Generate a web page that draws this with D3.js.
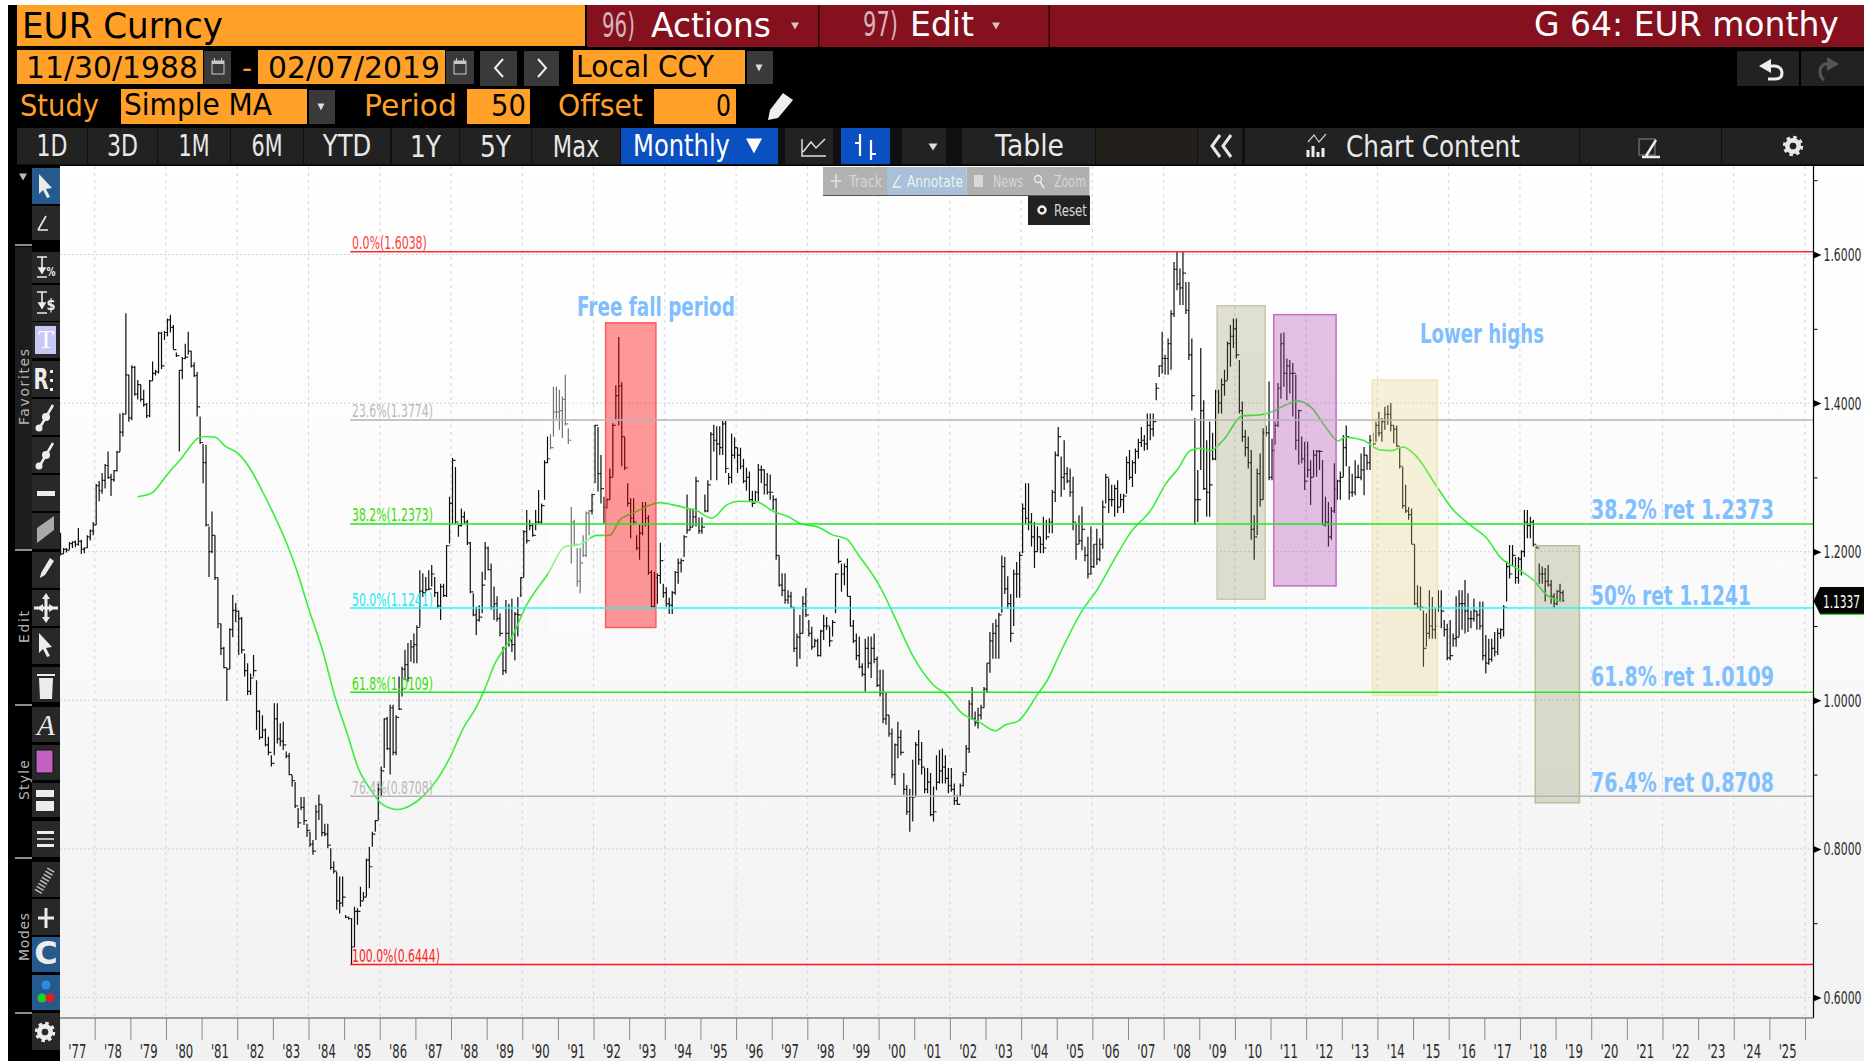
<!DOCTYPE html>
<html>
<head>
<meta charset="utf-8">
<title>EUR Curncy monthly</title>
<script src="https://cdn.jsdelivr.net/npm/d3@7"></script>
<style>
  html, body { margin: 0; padding: 0; background: #fff; overflow: hidden; }
  svg { display: block; font-family: "DejaVu Sans", sans-serif; }
</style>
</head>
<body>
<script>

// monthly bars, one row per year, 1977 to Mar 2019
var highs = [
  1.225,1.205,1.205,1.213,1.214,1.215,1.232,1.216,1.206,1.222,1.230,1.240,
  1.291,1.295,1.306,1.318,1.335,1.305,1.310,1.336,1.386,1.387,1.521,1.438,
  1.451,1.450,1.431,1.425,1.418,1.400,1.431,1.456,1.445,1.496,1.496,1.497,
  1.514,1.519,1.505,1.468,1.445,1.462,1.480,1.496,1.470,1.455,1.442,1.382,
  1.345,1.344,1.234,1.254,1.222,1.165,1.103,1.072,1.043,1.097,1.142,1.131,
  1.121,1.112,1.063,1.050,1.036,1.061,1.027,0.987,0.980,0.962,0.951,0.926,
  0.996,0.996,0.969,0.971,0.931,0.929,0.899,0.890,0.855,0.870,0.870,0.834,
  0.823,0.812,0.859,0.873,0.859,0.834,0.834,0.801,0.783,0.769,0.763,0.763,
  0.711,0.709,0.707,0.722,0.720,0.749,0.742,0.787,0.803,0.823,0.839,0.888,
  0.911,0.976,0.978,0.994,0.994,0.980,1.032,1.045,1.068,1.077,1.081,1.090,
  1.101,1.175,1.171,1.166,1.175,1.182,1.166,1.146,1.157,1.157,1.209,1.274,
  1.326,1.314,1.236,1.258,1.254,1.243,1.213,1.144,1.126,1.128,1.173,1.213,
  1.207,1.184,1.153,1.140,1.117,1.072,1.135,1.130,1.137,1.119,1.139,1.166,
  1.229,1.256,1.243,1.238,1.256,1.283,1.265,1.323,1.355,1.358,1.422,1.422,
  1.418,1.409,1.438,1.366,1.260,1.243,1.205,1.205,1.222,1.254,1.256,1.278,
  1.371,1.368,1.330,1.274,1.272,1.312,1.373,1.424,1.489,1.428,1.354,1.292,
  1.272,1.272,1.222,1.236,1.267,1.267,1.249,1.175,1.173,1.171,1.212,1.157,
  1.152,1.138,1.147,1.174,1.191,1.191,1.222,1.277,1.258,1.258,1.301,1.246,
  1.246,1.277,1.296,1.361,1.371,1.369,1.369,1.376,1.376,1.306,1.359,1.354,
  1.340,1.340,1.325,1.313,1.308,1.282,1.282,1.318,1.316,1.311,1.306,1.304,
  1.276,1.272,1.195,1.171,1.171,1.148,1.146,1.126,1.090,1.115,1.140,1.151,
  1.108,1.099,1.083,1.083,1.095,1.115,1.112,1.099,1.108,1.171,1.217,1.184,
  1.184,1.191,1.140,1.108,1.090,1.086,1.050,1.083,1.086,1.086,1.090,1.059,
  1.041,1.041,1.010,0.980,0.962,0.942,0.971,0.960,0.902,0.886,0.881,0.920,
  0.944,0.960,0.944,0.909,0.909,0.902,0.884,0.926,0.933,0.935,0.926,0.909,
  0.909,0.888,0.873,0.888,0.904,0.940,1.000,1.018,0.985,0.990,0.994,1.018,
  1.050,1.092,1.104,1.109,1.118,1.195,1.193,1.167,1.143,1.176,1.186,1.200,
  1.265,1.292,1.292,1.252,1.240,1.234,1.220,1.247,1.243,1.245,1.283,1.335,
  1.368,1.328,1.350,1.314,1.312,1.301,1.238,1.249,1.261,1.207,1.220,1.234,
  1.210,1.231,1.218,1.269,1.305,1.299,1.290,1.290,1.296,1.278,1.278,1.328,
  1.337,1.323,1.339,1.352,1.368,1.357,1.386,1.386,1.386,1.427,1.451,1.496,
  1.465,1.487,1.525,1.590,1.6038,1.581,1.6038,1.563,1.563,1.487,1.380,1.310,
  1.474,1.404,1.350,1.375,1.360,1.418,1.418,1.433,1.445,1.483,1.505,1.514,
  1.514,1.458,1.402,1.364,1.355,1.337,1.249,1.312,1.332,1.366,1.370,1.429,
  1.352,1.375,1.427,1.494,1.495,1.460,1.458,1.454,1.438,1.391,1.355,1.348,
  1.348,1.323,1.337,1.337,1.337,1.323,1.274,1.267,1.260,1.319,1.297,1.308,
  1.357,1.370,1.315,1.305,1.323,1.317,1.332,1.341,1.330,1.357,1.360,1.375,
  1.388,1.380,1.395,1.397,1.400,1.370,1.370,1.341,1.314,1.290,1.260,1.258,
  1.210,1.155,1.153,1.121,1.117,1.148,1.139,1.124,1.148,1.148,1.108,1.103,
  1.108,1.090,1.140,1.148,1.148,1.162,1.144,1.121,1.137,1.121,1.133,1.133,
  1.088,1.083,1.083,1.092,1.097,1.097,1.128,1.187,1.209,1.209,1.193,1.193,
  1.202,1.256,1.256,1.247,1.243,1.209,1.184,1.180,1.178,1.182,1.162,1.144,
  1.148,1.157,1.148
];
var lows = [
  1.195,1.197,1.199,1.203,1.205,1.206,1.208,1.197,1.198,1.205,1.215,1.222,
  1.236,1.268,1.278,1.285,1.298,1.275,1.294,1.308,1.335,1.355,1.385,1.375,
  1.377,1.410,1.405,1.402,1.395,1.380,1.381,1.430,1.437,1.440,1.446,1.485,
  1.490,1.495,1.472,1.462,1.335,1.432,1.459,1.465,1.448,1.435,1.382,1.345,
  1.292,1.234,1.166,1.198,1.162,1.097,1.061,1.043,0.999,1.042,1.085,1.105,
  1.061,1.063,1.032,1.007,1.007,1.032,0.960,0.947,0.949,0.938,0.926,0.911,
  0.926,0.942,0.938,0.933,0.922,0.899,0.884,0.855,0.828,0.852,0.832,0.816,
  0.803,0.792,0.812,0.839,0.817,0.817,0.801,0.772,0.767,0.718,0.713,0.722,
  0.707,0.705,0.6444,0.668,0.698,0.722,0.731,0.736,0.747,0.803,0.823,0.839,
  0.870,0.909,0.933,0.900,0.926,0.926,0.987,1.005,1.027,1.025,1.052,1.050,
  1.050,1.099,1.139,1.146,1.148,1.153,1.139,1.124,1.108,1.139,1.139,1.211,
  1.238,1.238,1.220,1.234,1.238,1.209,1.144,1.113,1.088,1.106,1.117,1.162,
  1.175,1.122,1.108,1.106,1.086,1.034,1.036,1.072,1.065,1.054,1.086,1.139,
  1.166,1.211,1.229,1.220,1.229,1.238,1.238,1.270,1.319,1.338,1.355,1.379,
  1.364,1.353,1.370,1.345,1.184,1.207,1.153,1.144,1.193,1.193,1.222,1.250,
  1.292,1.281,1.265,1.238,1.258,1.270,1.301,1.377,1.370,1.315,1.310,1.261,
  1.218,1.236,1.202,1.189,1.222,1.234,1.169,1.124,1.124,1.130,1.157,1.138,
  1.126,1.116,1.116,1.142,1.157,1.172,1.193,1.224,1.229,1.234,1.234,1.224,
  1.224,1.253,1.253,1.296,1.335,1.296,1.330,1.330,1.306,1.290,1.292,1.325,
  1.306,1.311,1.292,1.282,1.268,1.260,1.268,1.268,1.292,1.277,1.277,1.270,
  1.256,1.189,1.153,1.140,1.130,1.130,1.124,1.065,1.045,1.056,1.090,1.112,
  1.086,1.068,1.072,1.059,1.059,1.081,1.095,1.072,1.086,1.117,1.184,1.146,
  1.155,1.140,1.099,1.077,1.054,1.043,1.032,1.012,1.043,1.030,1.050,1.018,
  1.005,0.969,0.967,0.951,0.895,0.886,0.922,0.926,0.873,0.846,0.823,0.837,
  0.870,0.913,0.900,0.875,0.875,0.844,0.837,0.879,0.888,0.888,0.888,0.875,
  0.877,0.859,0.859,0.870,0.884,0.902,0.929,0.974,0.965,0.962,0.974,0.990,
  1.010,1.037,1.056,1.056,1.056,1.118,1.143,1.123,1.078,1.100,1.138,1.138,
  1.198,1.238,1.229,1.207,1.178,1.200,1.198,1.198,1.216,1.225,1.225,1.267,
  1.328,1.274,1.283,1.292,1.274,1.229,1.189,1.210,1.202,1.187,1.164,1.169,
  1.178,1.182,1.187,1.204,1.265,1.252,1.261,1.247,1.252,1.261,1.252,1.278,
  1.297,1.287,1.305,1.325,1.341,1.336,1.337,1.350,1.355,1.404,1.435,1.440,
  1.438,1.438,1.445,1.516,1.552,1.532,1.532,1.520,1.458,1.390,1.236,1.240,
  1.310,1.283,1.247,1.247,1.323,1.323,1.386,1.386,1.410,1.431,1.449,1.474,
  1.460,1.386,1.348,1.328,1.312,1.216,1.189,1.222,1.261,1.270,1.355,1.296,
  1.296,1.344,1.368,1.406,1.422,1.404,1.413,1.382,1.337,1.317,1.319,1.283,
  1.300,1.263,1.301,1.301,1.310,1.236,1.234,1.207,1.216,1.252,1.270,1.270,
  1.301,1.315,1.270,1.274,1.276,1.299,1.296,1.276,1.310,1.310,1.341,1.348,
  1.355,1.348,1.364,1.371,1.362,1.346,1.341,1.312,1.258,1.252,1.243,1.210,
  1.128,1.124,1.121,1.045,1.072,1.083,1.083,1.083,1.119,1.097,1.086,1.054,
  1.054,1.072,1.072,1.086,1.095,1.090,1.092,1.097,1.106,1.095,1.095,1.054,
  1.036,1.048,1.052,1.059,1.061,1.083,1.086,1.133,1.164,1.180,1.157,1.157,
  1.168,1.193,1.218,1.218,1.207,1.205,1.157,1.157,1.133,1.153,1.130,1.124,
  1.128,1.133,1.133
];
var closes = [
  1.197,1.203,1.202,1.211,1.213,1.210,1.214,1.203,1.205,1.220,1.228,1.236,
  1.289,1.282,1.296,1.316,1.300,1.297,1.309,1.334,1.361,1.385,1.438,1.380,
  1.448,1.412,1.425,1.405,1.398,1.383,1.430,1.440,1.442,1.494,1.450,1.495,
  1.512,1.502,1.472,1.464,1.444,1.460,1.462,1.470,1.450,1.437,1.395,1.347,
  1.320,1.236,1.200,1.222,1.165,1.103,1.070,1.044,1.042,1.095,1.121,1.120,
  1.110,1.068,1.040,1.012,1.030,1.040,0.985,0.950,0.960,0.940,0.930,0.915,
  0.975,0.948,0.945,0.940,0.925,0.900,0.892,0.858,0.835,0.856,0.838,0.825,
  0.806,0.797,0.850,0.860,0.822,0.820,0.805,0.775,0.770,0.730,0.727,0.735,
  0.708,0.706,0.668,0.716,0.716,0.730,0.735,0.785,0.776,0.820,0.838,0.880,
  0.905,0.975,0.935,0.990,0.930,0.977,0.988,1.042,1.048,1.030,1.072,1.075,
  1.098,1.147,1.145,1.149,1.150,1.170,1.145,1.127,1.153,1.141,1.208,1.265,
  1.323,1.240,1.235,1.247,1.240,1.212,1.146,1.115,1.108,1.112,1.155,1.205,
  1.176,1.125,1.130,1.110,1.090,1.040,1.090,1.080,1.075,1.116,1.115,1.165,
  1.227,1.215,1.235,1.222,1.240,1.240,1.262,1.320,1.325,1.340,1.388,1.388,
  1.390,1.405,1.372,1.350,1.240,1.210,1.160,1.185,1.195,1.252,1.255,1.277,
  1.370,1.305,1.285,1.260,1.270,1.300,1.370,1.410,1.423,1.355,1.313,1.265,
  1.245,1.240,1.205,1.225,1.260,1.245,1.172,1.126,1.165,1.168,1.188,1.145,
  1.130,1.128,1.145,1.172,1.185,1.188,1.220,1.229,1.233,1.247,1.295,1.228,
  1.233,1.255,1.290,1.358,1.350,1.345,1.340,1.372,1.312,1.300,1.330,1.340,
  1.330,1.315,1.295,1.300,1.270,1.265,1.280,1.310,1.310,1.290,1.280,1.280,
  1.270,1.195,1.155,1.148,1.135,1.140,1.125,1.070,1.085,1.090,1.130,1.115,
  1.090,1.072,1.080,1.060,1.093,1.100,1.100,1.080,1.105,1.170,1.187,1.170,
  1.180,1.140,1.100,1.080,1.060,1.045,1.035,1.070,1.050,1.070,1.055,1.020,
  1.010,0.975,0.980,0.955,0.900,0.940,0.950,0.930,0.880,0.850,0.870,0.870,
  0.940,0.920,0.910,0.880,0.890,0.846,0.850,0.890,0.905,0.910,0.895,0.885,
  0.880,0.865,0.860,0.885,0.900,0.935,0.995,0.975,0.970,0.980,0.990,1.015,
  1.050,1.080,1.090,1.100,1.115,1.180,1.150,1.130,1.090,1.170,1.170,1.195,
  1.258,1.245,1.240,1.220,1.200,1.220,1.210,1.205,1.220,1.240,1.280,1.330,
  1.355,1.300,1.305,1.295,1.280,1.240,1.210,1.215,1.230,1.195,1.170,1.180,
  1.210,1.190,1.210,1.260,1.300,1.270,1.270,1.285,1.260,1.270,1.275,1.320,
  1.300,1.320,1.335,1.347,1.350,1.345,1.370,1.365,1.375,1.420,1.450,1.460,
  1.460,1.480,1.520,1.580,1.560,1.555,1.575,1.525,1.465,1.410,1.270,1.270,
  1.390,1.285,1.280,1.290,1.325,1.415,1.400,1.425,1.430,1.480,1.490,1.500,
  1.465,1.390,1.355,1.340,1.320,1.230,1.220,1.305,1.270,1.360,1.360,1.300,
  1.336,1.370,1.420,1.480,1.440,1.450,1.440,1.440,1.350,1.390,1.325,1.295,
  1.310,1.300,1.330,1.335,1.335,1.236,1.240,1.220,1.255,1.285,1.295,1.300,
  1.340,1.355,1.280,1.280,1.300,1.300,1.310,1.330,1.320,1.350,1.345,1.370,
  1.360,1.375,1.385,1.385,1.370,1.365,1.342,1.315,1.262,1.255,1.250,1.210,
  1.130,1.125,1.125,1.070,1.090,1.100,1.095,1.100,1.125,1.120,1.095,1.057,
  1.060,1.083,1.085,1.130,1.130,1.120,1.110,1.110,1.120,1.115,1.100,1.060,
  1.050,1.055,1.070,1.065,1.090,1.095,1.125,1.180,1.170,1.195,1.165,1.190,
  1.200,1.240,1.235,1.240,1.210,1.205,1.170,1.170,1.160,1.155,1.140,1.130,
  1.147,1.145,1.134
];

// 50 month moving average
var maYears = [1979.2,1979.6,1979.93,1980.16,1980.39,1980.67,1980.91,1981.14,1981.38,1981.66,1982.03,1982.36,1982.73,1983.01,1983.39,1983.67,1984.0,1984.42,1984.74,1985.08,1985.42,1985.71,1986.05,1986.51,1986.85,1987.26,1987.66,1988.0,1988.35,1988.69,1988.92,1989.26,1989.47,1989.66,1990.12,1990.73,1991.2,1991.62,1992.09,1992.46,1992.74,1993.12,1993.49,1993.87,1994.24,1994.66,1994.9,1995.32,1995.74,1996.08,1996.58,1997.05,1997.47,1997.75,1998.36,1998.69,1999.11,1999.43,2000.04,2000.51,2000.97,2001.53,2001.91,2002.33,2002.85,2003.27,2003.56,2003.91,2004.49,2004.71,2005.12,2005.68,2006.15,2006.62,2007.06,2007.67,2008.04,2008.41,2008.74,2009.02,2009.3,2009.67,2010.22,2010.68,2011.07,2011.41,2011.76,2012.15,2012.57,2012.9,2013.09,2013.6,2014.07,2014.4,2014.72,2015.1,2015.66,2016.13,2016.6,2017.07,2017.44,2018.0,2018.37,2018.75,2019.17];
var maValues = [1.274,1.279,1.297,1.311,1.323,1.341,1.353,1.355,1.354,1.342,1.332,1.312,1.279,1.252,1.211,1.175,1.124,1.063,1.005,0.956,0.906,0.882,0.861,0.853,0.858,0.873,0.897,0.926,0.963,0.989,1.012,1.052,1.068,1.081,1.128,1.171,1.207,1.210,1.222,1.222,1.243,1.252,1.261,1.266,1.263,1.258,1.255,1.245,1.263,1.268,1.267,1.254,1.247,1.239,1.232,1.223,1.217,1.196,1.153,1.106,1.059,1.021,1.007,0.983,0.970,0.959,0.967,0.972,1.010,1.025,1.066,1.118,1.150,1.190,1.225,1.258,1.290,1.312,1.336,1.339,1.336,1.350,1.383,1.384,1.389,1.397,1.403,1.394,1.366,1.349,1.354,1.350,1.337,1.336,1.341,1.328,1.288,1.256,1.236,1.218,1.193,1.175,1.162,1.142,1.133];

// fibonacci levels and their labels
var fibValues = [1.6038,1.3774,1.2373,1.1241,1.0109,0.8708,0.6444];
var fibLabels = ["0.0%(1.6038)","23.6%(1.3774)","38.2%(1.2373)","50.0%(1.1241)","61.8%(1.0109)","76.4%(0.8708)","100.0%(0.6444)"];
var fibColors = ["#ff2a2a","#b5b5b5","#1ee81e","#2cf4f8","#1ee81e","#b5b5b5","#ff1a1a"];
var fibLabelColors = ["#ff3b3b","#b9b9b9","#33e000","#22e6f2","#33e000","#b9b9b9","#ff2020"];

// coloured boxes drawn on the chart
var boxStart = [1992.34,2009.5,2011.09,2013.86,2018.43];
var boxEnd = [1993.75,2010.85,2012.84,2015.68,2019.67];
var boxTop = [1.508,1.531,1.519,1.431,1.208];
var boxBottom = [1.098,1.136,1.154,1.007,0.862];
var boxFill = ["rgba(255,0,0,0.4)","rgba(125,125,70,0.24)","rgba(180,70,180,0.34)","rgba(225,212,120,0.27)","rgba(125,125,70,0.25)"];
var boxLine = ["#ff5a5a","#c9c9a8","#c46fc4","#eee6b0","#bcbc9c"];

var yTicks = [0.6,0.8,1.0,1.2,1.4,1.6];
var yMinorTicks = [0.7,0.9,1.1,1.3,1.5,1.7];
var yearTicks = d3.range(1977,2027);
var gridYears = d3.range(1978,2028,2);
var lastPrice = 1.1337;

var width = 1864, height = 1061;
var plot = {left: 60, right: 1813.5, top: 166, bottom: 1018};

var x = d3.scaleLinear().domain([1978,2026]).range([94.7,1805]);
var y = d3.scaleLinear().domain([0.6,1.6]).range([997.5,254.5]);

var svg = d3.select("body").append("svg")
  .attr("width", width)
  .attr("height", height);

var defs = svg.append("defs");
var gradient = defs.append("linearGradient")
  .attr("id","plotBg")
  .attr("gradientUnits","userSpaceOnUse")
  .attr("x1",0).attr("y1",plot.top).attr("x2",0).attr("y2",height);
gradient.append("stop").attr("offset","0%").attr("stop-color","#ffffff");
gradient.append("stop").attr("offset","35%").attr("stop-color","#fcfcfc");
gradient.append("stop").attr("offset","100%").attr("stop-color","#f1f1f1");

// squeeze a text to a given width, the terminal font is very narrow
function squeeze(t, px, py, w) {
  var scale = w / t.node().getComputedTextLength();
  t.attr("x",0).attr("y",0).attr("dy",null)
    .attr("dominant-baseline","central")
    .attr("transform","translate(" + px + "," + py + ") scale(" + scale + ",1)");
}

function label(g, px, py, s, size, w, color, weight, anchor) {
  var t = g.append("text")
    .attr("x", px).attr("y", py)
    .attr("dominant-baseline","central")
    .attr("font-size", size)
    .attr("fill", color)
    .text(s);
  if (weight) t.attr("font-weight", weight);
  if (anchor) t.attr("text-anchor", anchor);
  if (w) squeeze(t, px, py, w);
  return t;
}

function box(g, x0, x1, y0, y1, fill, stroke) {
  var r = g.append("rect")
    .attr("x", x0).attr("y", y0)
    .attr("width", x1 - x0).attr("height", y1 - y0)
    .attr("fill", fill);
  if (stroke) r.attr("stroke", stroke).attr("stroke-width", 1);
  return r;
}

function tri(g, cx, cy, w, h, color) {
  var d = "M" + (cx - w/2) + "," + (cy - h/2) + "L" + (cx + w/2) + "," + (cy - h/2) + "L" + cx + "," + (cy + h/2) + "Z";
  g.append("path").attr("d", d).attr("fill", color);
}

// solid gear: ring, teeth from a dashed stroke, dark hole
function gear(g, cx, cy, r, color, hole) {
  var dash = 2 * Math.PI * r / 16;
  g.append("circle").attr("cx",cx).attr("cy",cy).attr("r",r).attr("fill",color);
  g.append("circle").attr("cx",cx).attr("cy",cy).attr("r",r).attr("fill","none")
    .attr("stroke",color).attr("stroke-width",r * 0.55).attr("stroke-dasharray",dash + " " + dash);
  g.append("circle").attr("cx",cx).attr("cy",cy).attr("r",r * 0.42).attr("fill",hole);
}

function calendar(g, cx, cy) {
  box(g, cx - 6, cx + 6, cy - 5, cy + 8, "none", "#c8c8c8");
  box(g, cx - 6, cx + 6, cy - 5, cy - 2, "#c8c8c8");
  box(g, cx - 4, cx - 3, cy - 8, cy - 5, "#c8c8c8");
  box(g, cx + 3, cx + 4, cy - 8, cy - 5, "#c8c8c8");
}

function drawFrame() {
  box(svg, 8, width, 5, plot.top, "#000");
  box(svg, 8, plot.left, plot.top - 1, height, "#000");
  box(svg, plot.left, width, plot.top, height, "url(#plotBg)");
}

function drawHeader() {
  var g = svg.append("g").attr("class","header");
  var orange = "#ffa028", wine = "#85101e", btn = "#3a3a3a";

  // row 1
  box(g, 17, 585, 5, 46, orange);
  box(g, 587, width, 5, 47, wine);
  box(g, 818, 819.5, 5, 47, "#2a0508");
  box(g, 1048.5, 1050, 5, 47, "#2a0508");
  label(g, 22, 26, "EUR Curncy", 35, 201, "#000");
  label(g, 602, 25, "96)", 33, 33, "#d8b0b8");
  label(g, 651, 25, "Actions", 33, 120, "#fff");
  tri(g, 795, 26, 8, 7, "#d8c0c4");
  label(g, 863, 25, "97)", 33, 35, "#d8b0b8");
  label(g, 910, 25, "Edit", 33, 64, "#fff");
  tri(g, 996, 26, 8, 7, "#d8c0c4");
  label(g, 1534, 25, "G 64: EUR monthy", 33, 305, "#fff");

  // row 2
  box(g, 17, 203, 50, 84, orange);
  label(g, 26, 67, "11/30/1988", 31, 172, "#000");
  box(g, 204, 231, 51, 84, btn);
  calendar(g, 218, 66);
  label(g, 242, 68, "-", 28, 10, "#ffa028");
  box(g, 258, 445, 50, 84, orange);
  label(g, 268, 67, "02/07/2019", 31, 172, "#000");
  box(g, 446, 474, 51, 84, btn);
  calendar(g, 460, 66);
  box(g, 480, 517, 51, 86, btn);
  g.append("path").attr("d","M503,59L495,68L503,77").attr("fill","none").attr("stroke","#eee").attr("stroke-width",2);
  box(g, 524, 559, 51, 86, btn);
  g.append("path").attr("d","M538,59L546,68L538,77").attr("fill","none").attr("stroke","#eee").attr("stroke-width",2);
  box(g, 573, 745, 50, 84, orange);
  label(g, 576, 67, "Local CCY", 31, 138, "#000");
  box(g, 747, 773, 51, 84, btn);
  tri(g, 759, 68, 7, 7, "#ddd");
  box(g, 1737, 1799, 51, 86, "#222");
  box(g, 1801, 1864, 51, 86, "#222");
  g.append("path").attr("d","M1771,59L1759,66L1771,73Z").attr("fill","#eee");
  g.append("path").attr("d","M1769,66L1775,66Q1782,67 1782,73Q1782,79 1775,79L1768,79")
    .attr("fill","none").attr("stroke","#eee").attr("stroke-width",3);
  g.append("path").attr("d","M1827,57L1839,64L1827,71Z").attr("fill","#555");
  g.append("path").attr("d","M1829,64L1825,64Q1820,66 1820,72Q1820,77 1824,80")
    .attr("fill","none").attr("stroke","#555").attr("stroke-width",3);

  // row 3
  label(g, 20, 105, "Study", 31, 79, orange);
  box(g, 121, 307, 89, 124, orange);
  label(g, 124, 105, "Simple MA", 31, 148, "#000");
  box(g, 309, 335, 90, 124, btn);
  tri(g, 321, 107, 7, 7, "#ddd");
  label(g, 364, 105, "Period", 31, 93, orange);
  box(g, 467, 530, 89, 124, orange);
  label(g, 491, 105, "50", 31, 35, "#000");
  label(g, 558, 105, "Offset", 31, 85, orange);
  box(g, 654, 736, 89, 124, orange);
  label(g, 716, 105, "0", 31, 15, "#000");
  g.append("path").attr("d","M783,93L793,100L778,118L768,120L770,110Z").attr("fill","#eee");

  // row 4, the period buttons
  var periods = ["1D","3D","1M","6M","YTD","1Y","5Y","Max"];
  var pLeft = [17,88,158,231,304,392,460,532];
  var pRight = [87,157,230,303,390,459,531,620];
  box(g, 17, 1864, 128, 165, "#101010");
  periods.forEach(function(p, i) {
    box(g, pLeft[i], pRight[i], 128, 164, "#222");
    label(g, (pLeft[i] + pRight[i]) / 2, 146, p, 30, p.length * 15.5 + (p === "YTD" ? 2 : 0), "#e8e8e8", null, "middle");
  });
  box(g, 621, 778, 128, 164, "#0a50c0");
  label(g, 633, 146, "Monthly", 30, 97, "#fff");
  tri(g, 754, 146, 16, 15, "#fff");
  box(g, 785, 833, 128, 164, "#222");
  g.append("path").attr("d","M802,139L802,156L826,156 M803,152L811,142L816,148L825,139").attr("fill","none").attr("stroke","#ddd").attr("stroke-width",1.5);
  box(g, 841, 890, 128, 164, "#0a50c0");
  g.append("path").attr("d","M860,134L860,156M855,143L860,143M871,140L871,160M871,154L876,154").attr("fill","none").attr("stroke","#fff").attr("stroke-width",2.2);
  box(g, 902, 946, 128, 164, "#222");
  tri(g, 933, 147, 9, 7, "#ddd");
  box(g, 962, 1095, 128, 164, "#222");
  label(g, 995, 146, "Table", 30, 69, "#e8e8e8");
  box(g, 1096, 1197, 128, 164, "#231f1a");
  box(g, 1198, 1242, 128, 164, "#222");
  g.append("path").attr("d","M1220,135L1212,146L1220,157M1231,135L1223,146L1231,157")
    .attr("fill","none").attr("stroke","#e8e8e8").attr("stroke-width",3);
  box(g, 1245, 1579, 128, 164, "#222");
  g.append("path").attr("d","M1308,142L1314,135L1319,142L1326,134").attr("fill","none").attr("stroke","#ccc").attr("stroke-width",1.2);
  g.append("path").attr("d","M1308,157L1308,150M1313,157L1313,146M1318,157L1318,152M1323,157L1323,148").attr("fill","none").attr("stroke","#eee").attr("stroke-width",3);
  label(g, 1346, 146, "Chart Content", 30, 174, "#e8e8e8");
  box(g, 1580, 1721, 128, 164, "#222");
  box(g, 1639, 1655, 139, 155, "none", "#888");
  g.append("path").attr("d","M1642,157L1660,157M1646,156L1656,140").attr("fill","none").attr("stroke","#eee").attr("stroke-width",2.5);
  box(g, 1722, 1864, 128, 164, "#222");
  gear(g, 1793, 146, 8, "#e8e8e8", "#222");
}

function drawSideBar() {
  var g = svg.append("g").attr("class","sidebar");
  var panel = "#282828";
  box(g, 15, 32, 247, 549, "#1d1d1d");

  var tops = [168,206,252,285,322,361,399,437,475,513,552,590,628,667,707,745,783,821,862,899,937,975,1013];
  var bottoms = [204,240,283,321,358,397,435,473,511,549,588,626,664,702,742,780,817,857,897,935,972,1010,1050];
  tops.forEach(function(t, i) {
    var f = panel;
    if (i === 0 || i === 20 || i === 21) f = "#265a8c";
    box(g, 32, 60, t, bottoms[i], f);
  });
  box(g, 35, 56, 326, 354, "#c8c8f4");

  tri(g, 23, 177, 8, 7, "#bbb");
  [245,550,705,858,1013].forEach(function(sy) { box(g, 15, 32, sy - 1, sy + 1, "#8c8c8c"); });

  // icons
  var w = "#ececec";
  g.append("path").attr("d","M39,174L39,194L43,190L47,198L50,197L46,189L52,188Z").attr("fill",w);
  g.append("path").attr("d","M38,230L46,216M38,230L48,230").attr("stroke",w).attr("stroke-width",1.6).attr("fill","none");
  g.append("path").attr("d","M37,257L47,257M42,257L42,272M37,277L47,277M39,268L45,268L42,273Z").attr("stroke",w).attr("stroke-width",1.6).attr("fill",w);
  label(g, 51, 271, "%", 12, 9, w, "bold", "middle");
  g.append("path").attr("d","M37,292L47,292M42,292L42,307M37,313L47,313M39,303L45,303L42,308Z").attr("stroke",w).attr("stroke-width",1.6).attr("fill",w);
  label(g, 51, 305, "$", 15, 9, w, "bold", "middle");
  label(g, 46, 340, "T", 26, 16, "#fff", null, "middle").attr("font-family","Liberation Serif");
  label(g, 41, 380, "R", 28, 15, w, "bold", "middle");
  [370,379,388].forEach(function(dy) { box(g, 50, 53, dy, dy + 3, w); });
  [417,455].forEach(function(cy) {
    g.append("path").attr("d","M39," + (cy + 12) + "L53," + (cy - 12)).attr("stroke",w).attr("stroke-width",2.5);
    g.append("circle").attr("cx",39).attr("cy",cy + 11).attr("r",3.5).attr("fill",w);
    g.append("circle").attr("cx",46).attr("cy",cy).attr("r",4).attr("fill",w);
  });
  box(g, 37, 55, 491, 496, w);
  g.append("path").attr("d","M37,543L54,530L54,516L37,528Z").attr("fill","#aaa");
  g.append("path").attr("d","M41,573L50,558L54,561L45,575L40,578Z").attr("fill",w);
  g.append("path").attr("d","M46,596L46,620M34,608L58,608").attr("stroke",w).attr("stroke-width",3);
  g.append("path").attr("d","M46,593L42,599L50,599ZM46,623L42,617L50,617ZM37,608L43,604L43,612ZM55,608L49,604L49,612Z").attr("fill",w);
  g.append("path").attr("d","M39,633L39,653L43,649L47,657L50,656L46,648L52,647Z").attr("fill",w);
  g.append("path").attr("d","M39,678L53,678L52,699L40,699Z M37,674L55,674L55,676L37,676Z").attr("fill",w);
  label(g, 46, 725, "A", 30, 20, w, null, "middle").attr("font-family","Liberation Serif").attr("font-style","italic");
  box(g, 36, 53, 750, 773, "#c060c0", "#111");
  box(g, 36, 54, 790, 797, w);
  box(g, 36, 54, 801, 811, w);
  box(g, 37, 54, 831, 834, w);
  box(g, 37, 54, 838, 840, "#bbb");
  box(g, 37, 54, 844, 847, w);
  g.append("path").attr("d","M38,892L52,868").attr("stroke","#bbb").attr("stroke-width",8).attr("stroke-dasharray","1.5 2").attr("fill","none");
  g.append("path").attr("d","M46,908L46,928M38,918L54,918").attr("stroke",w).attr("stroke-width",3);
  label(g, 46, 953, "C", 32, 0, w, "bold", "middle");
  g.append("circle").attr("cx",46).attr("cy",985).attr("r",4.5).attr("fill","#2b8ce8");
  g.append("circle").attr("cx",42).attr("cy",998).attr("r",4.5).attr("fill","#22cc33");
  g.append("circle").attr("cx",50).attr("cy",998).attr("r",4.5).attr("fill","#e02020");
  gear(g, 45, 1032, 8, w, "#282828");

  // section names, rotated
  [["Favorites",24,387,76],["Edit",24,627,32],["Style",24,780,40],["Modes",24,937,48]].forEach(function(s) {
    g.append("text")
      .attr("transform","translate(" + s[1] + "," + s[2] + ") rotate(-90)")
      .attr("text-anchor","middle")
      .attr("dominant-baseline","central")
      .attr("font-size",14)
      .attr("fill","#b4b4b4")
      .attr("textLength",s[3])
      .text(s[0]);
  });
}

function drawGrid() {
  var g = svg.append("g").attr("class","grid");
  g.selectAll(".v").data(gridYears).enter().append("line")
    .attr("x1", function(d){ return x(d); })
    .attr("x2", function(d){ return x(d); })
    .attr("y1", plot.top).attr("y2", plot.bottom)
    .attr("stroke","#cfd3e0").attr("stroke-width",1).attr("stroke-dasharray","3 4");
  g.selectAll(".h").data(yTicks).enter().append("line")
    .attr("x1", plot.left).attr("x2", plot.right)
    .attr("y1", function(d){ return y(d); })
    .attr("y2", function(d){ return y(d); })
    .attr("stroke","#cfd3dd").attr("stroke-width",1).attr("stroke-dasharray","2 2");
}

function drawBars() {
  var g = svg.append("g").attr("class","bars");
  g.selectAll("path").data(highs).enter().append("path")
    .attr("d", function(h, i) {
      var px = x(1977 + (i + 0.5) / 12);
      var open = i === 0 ? highs[0] : closes[i - 1];
      return "M" + px + "," + y(h) + "L" + px + "," + y(lows[i]) +
             "M" + (px - 1.4) + "," + y(open) + "L" + px + "," + y(open) +
             "M" + px + "," + y(closes[i]) + "L" + (px + 1.4) + "," + y(closes[i]);
    })
    .attr("fill","none")
    .attr("stroke","#0e0e0e")
    .attr("stroke-width",1.2);

  var maLine = d3.line()
    .x(function(d){ return x(d); })
    .y(function(d, i){ return y(maValues[i]); })
    .curve(d3.curveMonotoneX);
  svg.append("path")
    .attr("d", maLine(maYears))
    .attr("fill","none")
    .attr("stroke","#3cee3c")
    .attr("stroke-width",1.6);

  // faint leftover panel over the bars of 1990-91
  box(svg, x(1990.73), x(1991.9), y(1.47), y(1.093), "rgba(255,255,255,0.42)");
}

function drawBoxes() {
  var g = svg.append("g").attr("class","boxes");
  g.selectAll("rect").data(boxStart).enter().append("rect")
    .attr("x", function(d){ return x(d); })
    .attr("width", function(d, i){ return x(boxEnd[i]) - x(d); })
    .attr("y", function(d, i){ return y(boxTop[i]); })
    .attr("height", function(d, i){ return y(boxBottom[i]) - y(boxTop[i]); })
    .attr("fill", function(d, i){ return boxFill[i]; })
    .attr("stroke", function(d, i){ return boxLine[i]; })
    .attr("stroke-width",1.5);
}

function drawFib() {
  var g = svg.append("g").attr("class","fib");
  g.selectAll("line").data(fibValues).enter().append("line")
    .attr("x1", x(1985.17)).attr("x2", plot.right)
    .attr("y1", function(d){ return y(d); })
    .attr("y2", function(d){ return y(d); })
    .attr("stroke", function(d, i){ return fibColors[i]; })
    .attr("stroke-width",1.5);
  var labelW = [75,81,81,81,81,81,88];
  fibValues.forEach(function(v, i) {
    label(g, 352, y(v) - 8.5, fibLabels[i], 17, labelW[i], fibLabelColors[i]);
  });

  var blue = "#80bfff";
  label(g, 577, 307, "Free fall period", 26, 158, blue, "bold");
  label(g, 1420, 334, "Lower highs", 26, 124, blue, "bold");
  label(g, 1591, 510, "38.2% ret 1.2373", 26, 183, blue, "bold");
  label(g, 1591, 596, "50% ret 1.1241", 26, 160, blue, "bold");
  label(g, 1591, 677, "61.8% ret 1.0109", 26, 183, blue, "bold");
  label(g, 1591, 783, "76.4% ret 0.8708", 26, 183, blue, "bold");
}

function drawAxes() {
  // right axis
  var yAxis = d3.axisRight(y)
    .tickValues(yTicks)
    .tickSize(0)
    .tickPadding(0)
    .tickFormat(d3.format(".4f"));
  var gy = svg.append("g")
    .attr("transform","translate(" + plot.right + ",0)")
    .call(yAxis);
  gy.select(".domain").remove();
  gy.selectAll("text")
    .attr("font-family","DejaVu Sans")
    .attr("font-size",18)
    .attr("fill","#2b2b2b")
    .each(function() { squeeze(d3.select(this), 10, 0, 38); });
  gy.selectAll(".tick").append("path")
    .attr("d","M0,-3.5L8,0L0,3.5Z")
    .attr("fill","#000");

  var gm = svg.append("g")
    .attr("transform","translate(" + plot.right + ",0)")
    .call(d3.axisRight(y).tickValues(yMinorTicks).tickSize(4).tickFormat(""));
  gm.select(".domain").remove();

  svg.append("line")
    .attr("x1",plot.right).attr("x2",plot.right)
    .attr("y1",plot.top).attr("y2",plot.bottom)
    .attr("stroke","#000").attr("stroke-width",1.2);

  // bottom axis, label sits in the middle of its year
  var xAxis = d3.axisBottom(x)
    .tickValues(yearTicks)
    .tickSize(22)
    .tickPadding(0)
    .tickFormat(function(d){ return d < 2026 ? "'" + String(d).slice(2) : ""; });
  var gx = svg.append("g")
    .attr("transform","translate(0," + plot.bottom + ")")
    .call(xAxis);
  gx.select(".domain").remove();
  gx.selectAll(".tick line").attr("stroke","#8a8a8a");
  gx.selectAll("text")
    .attr("font-family","DejaVu Sans")
    .attr("font-size",19)
    .attr("fill","#2b2b2b")
    .each(function(d) { if (d < 2026) squeeze(d3.select(this), 17.8, 33, 18); });
  svg.append("line")
    .attr("x1",plot.left).attr("x2",plot.right)
    .attr("y1",plot.bottom).attr("y2",plot.bottom)
    .attr("stroke","#7d7d7d").attr("stroke-width",1.5);

  // last price tag
  var ty = y(lastPrice);
  svg.append("path")
    .attr("d","M1813.5," + ty + "L1820," + (ty - 14) + "L1864," + (ty - 14) + "L1864," + (ty + 13) + "L1820," + (ty + 13) + "Z")
    .attr("fill","#050505");
  svg.append("line")
    .attr("x1",1820).attr("x2",1864).attr("y1",ty + 13.5).attr("y2",ty + 13.5)
    .attr("stroke","#3cd23c").attr("stroke-width",1.2);
  label(svg, 1823, ty, d3.format(".4f")(lastPrice), 18, 37, "#fff");
}

function drawOverlayButtons() {
  var g = svg.append("g").attr("class","overlay");
  box(g, 823, 887, 167, 195, "#b2b2b2");
  box(g, 887, 966.5, 167, 195, "#a8c0d8");
  box(g, 966.5, 1027, 167, 195, "#b0b0b0");
  box(g, 1027, 1089.5, 167, 195, "#b0b0b0");
  box(g, 823, 1089.5, 195, 196, "#555");
  g.append("path").attr("d","M836,174L836,188M831,181L841,181").attr("stroke","#e2e2e2").attr("stroke-width",1.6);
  label(g, 849, 181, "Track", 16, 33, "#d6d6d6");
  g.append("path").attr("d","M893,187L900,175M893,187L901,187").attr("fill","none").attr("stroke","#f2f2f2").attr("stroke-width",1.4);
  label(g, 907, 181, "Annotate", 16, 56, "#eef2f6");
  box(g, 974, 983, 175, 187, "#d8d8d8");
  label(g, 993, 181, "News", 16, 30, "#d6d6d6");
  g.append("circle").attr("cx",1038).attr("cy",179).attr("r",3.5).attr("fill","none").attr("stroke","#eee").attr("stroke-width",1.3);
  g.append("path").attr("d","M1040,182L1044,188").attr("stroke","#eee").attr("stroke-width",1.5);
  label(g, 1054, 181, "Zoom", 16, 32, "#d6d6d6");

  box(g, 1028, 1090, 196, 225, "#222");
  g.append("circle").attr("cx",1042).attr("cy",210).attr("r",3.5).attr("fill","none").attr("stroke","#eee").attr("stroke-width",2.5);
  label(g, 1054, 210, "Reset", 16, 33, "#d8d8d8");
}

drawFrame();
drawGrid();
drawBars();
drawBoxes();
drawFib();
drawAxes();
drawOverlayButtons();
drawHeader();
drawSideBar();

</script>
</body>
</html>
